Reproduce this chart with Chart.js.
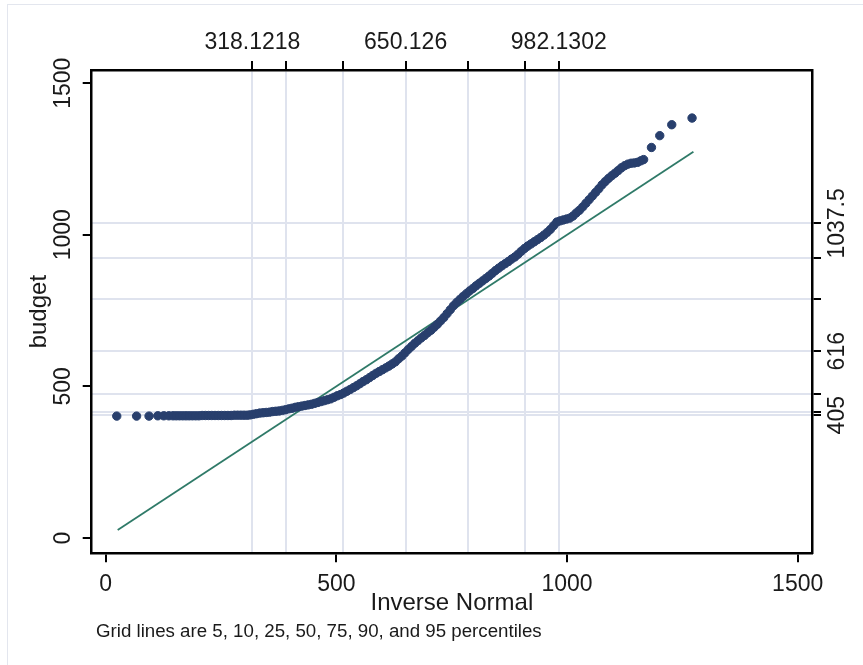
<!DOCTYPE html>
<html>
<head>
<meta charset="utf-8">
<script src="https://cdn.jsdelivr.net/npm/chart.js@4.4.0/dist/chart.umd.min.js"></script>
<style>
  html, body { margin: 0; padding: 0; background: #fff; }
  #wrap { width: 863px; height: 665px; }
</style>
</head>
<body>
<div id="wrap"><canvas id="qnorm" width="863" height="665"></canvas></div>
<script>
// inverse normal quantiles (x) against sorted budget (y)
const invNormal = [
  24, 67, 94, 113, 126, 137, 146, 153, 160, 167,
  174, 181, 188, 195, 202, 209, 216, 223, 230, 237,
  244, 251, 258, 265, 272, 279, 286, 293, 300, 307,
  313, 320, 327, 334, 341, 348, 355, 362, 369, 376,
  383, 390, 397, 404, 411, 418, 425, 432, 439, 446,
  453, 460, 467, 474, 481, 488, 495, 502, 509, 516,
  523, 530, 537, 544, 551, 558, 565, 572, 579, 586,
  593, 600, 607, 614, 621, 628, 635, 642, 649, 656,
  663, 670, 677, 684, 691, 698, 705, 712, 719, 726,
  733, 740, 747, 754, 761, 768, 775, 782, 789, 796,
  803, 810, 817, 824, 831, 838, 845, 852, 859, 866,
  873, 880, 887, 894, 901, 908, 915, 922, 929, 936,
  943, 950, 957, 964, 971, 978, 985, 992, 999, 1006,
  1013, 1020, 1027, 1034, 1041, 1048, 1055, 1062, 1069, 1076,
  1083, 1090, 1097, 1104, 1111, 1118, 1125, 1132, 1139, 1146,
  1153, 1160, 1166, 1183, 1201, 1227, 1271
];
const budget = [
  402, 402, 402, 403, 403, 403, 403, 403, 403, 403,
  403, 403, 403, 403, 403, 404, 404, 404, 404, 404,
  404, 404, 404, 404, 404, 405, 405, 405, 405, 405,
  406, 408, 410, 412, 413, 414, 415, 417, 418, 419,
  421, 423, 426, 428, 431, 433, 435, 437, 439, 441,
  444, 447, 450, 453, 456, 459, 464, 469, 473, 478,
  484, 490, 496, 502, 509, 516, 522, 529, 536, 543,
  549, 555, 561, 567, 574, 581, 591, 600, 611, 622,
  632, 642, 651, 660, 668, 677, 685, 695, 705, 716,
  727, 740, 753, 766, 777, 787, 797, 806, 815, 823,
  832, 840, 848, 856, 864, 873, 882, 890, 898, 905,
  912, 920, 927, 936, 946, 955, 963, 970, 977, 984,
  991, 999, 1008, 1018, 1030, 1042, 1046, 1049, 1052, 1055,
  1062, 1072, 1081, 1092, 1104, 1116, 1128, 1140, 1152, 1165,
  1176, 1186, 1195, 1203, 1212, 1221, 1228, 1233, 1236, 1237,
  1239, 1244, 1248, 1288, 1327, 1363, 1385
];
const refLine = [26, 1274];

// grid lines: 5, 10, 25, 50, 75, 90, 95 percentiles
const normPctl = [318.1218, 391.45, 513.98, 650.126, 786.27, 908.8, 982.1302];
const normLabels = ['318.1218', '', '', '650.126', '', '', '982.1302'];
const dataPctl = [405, 417, 476, 616, 787, 925, 1037.5];
const dataLabels = ['405', '', '', '616', '', '', '1037.5'];
const axisTicks = [0, 500, 1000, 1500];

const FONT = '"Liberation Sans", Arial, Helvetica, sans-serif';
const GRID = '#dfe3ee';

const pts = invNormal.map((v, i) => ({ x: v, y: budget[i] }));

const rotText = (ctx, txt, x, y) => {
  ctx.save();
  ctx.translate(x, y);
  ctx.rotate(-Math.PI / 2);
  ctx.fillText(txt, 0, 0);
  ctx.restore();
};

const axisText = {
  id: 'axisText',
  afterDraw(chart) {
    const { ctx, chartArea } = chart;
    const { x, x2, y, y2 } = chart.scales;
    ctx.save();
    ctx.fillStyle = '#1a1a1a';
    ctx.textAlign = 'center';
    ctx.textBaseline = 'middle';
    ctx.font = '23px ' + FONT;
    axisTicks.forEach(v => ctx.fillText(String(v), x.getPixelForValue(v), 585));
    axisTicks.forEach(v => rotText(ctx, String(v), 63.5, y.getPixelForValue(v)));
    normPctl.forEach((v, i) => {
      if (normLabels[i]) ctx.fillText(normLabels[i], x2.getPixelForValue(v), 43);
    });
    dataPctl.forEach((v, i) => {
      if (dataLabels[i]) rotText(ctx, dataLabels[i], 838, y2.getPixelForValue(v));
    });

    ctx.font = '24px ' + FONT;
    ctx.fillText('Inverse Normal', (chartArea.left + chartArea.right) / 2, 603);
    rotText(ctx, 'budget', 39, (chartArea.top + chartArea.bottom) / 2);

    ctx.font = '18.7px ' + FONT;
    ctx.textAlign = 'left';
    ctx.textBaseline = 'alphabetic';
    ctx.fillText('Grid lines are 5, 10, 25, 50, 75, 90, and 95 percentiles', 96, 636.5);

    // faint outer graph region frame
    ctx.strokeStyle = '#e3e6ee';
    ctx.lineWidth = 1;
    ctx.strokeRect(7.5, 4.5, 880, 680);
    ctx.restore();
  }
};

const tickGrid = (onArea) => ({
  drawOnChartArea: onArea,
  color: GRID,
  lineWidth: 2,
  drawTicks: true,
  tickLength: 9,
  tickColor: '#000',
  tickWidth: 2
});
const frame = { display: true, color: '#000', width: 2.5 };

new Chart(document.getElementById('qnorm'), {
  type: 'scatter',
  data: {
    datasets: [
      {
        label: 'budget',
        data: pts,
        backgroundColor: '#283f6d',
        borderColor: '#283f6d',
        borderWidth: 1,
        pointRadius: 4.2,
        xAxisID: 'x',
        yAxisID: 'y'
      },
      {
        type: 'line',
        label: 'Inverse Normal',
        data: refLine.map(v => ({ x: v, y: v })),
        borderColor: '#2f7a68',
        borderWidth: 1.8,
        pointRadius: 0,
        fill: false,
        xAxisID: 'x',
        yAxisID: 'y'
      }
    ]
  },
  options: {
    responsive: false,
    animation: false,
    devicePixelRatio: 1,
    layout: { padding: 0 },
    plugins: {
      legend: { display: false },
      tooltip: { enabled: false }
    },
    scales: {
      x: {
        type: 'linear', axis: 'x', position: 'bottom',
        min: -30.3, max: 1531,
        afterBuildTicks: s => { s.ticks = axisTicks.map(v => ({ value: v })); },
        afterFit: s => { s.height = 665 - 553.3; },
        ticks: { display: false },
        grid: tickGrid(false),
        border: frame
      },
      x2: {
        type: 'linear', axis: 'x', position: 'top',
        min: -30.3, max: 1531,
        afterBuildTicks: s => { s.ticks = normPctl.map(v => ({ value: v })); },
        afterFit: s => { s.height = 70; },
        ticks: { display: false },
        grid: tickGrid(true),
        border: frame
      },
      y: {
        type: 'linear', axis: 'y', position: 'left',
        min: -50.5, max: 1543.5,
        afterBuildTicks: s => { s.ticks = axisTicks.map(v => ({ value: v })); },
        afterFit: s => { s.width = 91.7; },
        ticks: { display: false },
        grid: tickGrid(false),
        border: frame
      },
      y2: {
        type: 'linear', axis: 'y', position: 'right',
        min: -50.5, max: 1543.5,
        afterBuildTicks: s => { s.ticks = dataPctl.map(v => ({ value: v })); },
        afterFit: s => { s.width = 863 - 812; },
        ticks: { display: false },
        grid: tickGrid(true),
        border: frame
      }
    }
  },
  plugins: [axisText]
});
</script>
</body>
</html>
